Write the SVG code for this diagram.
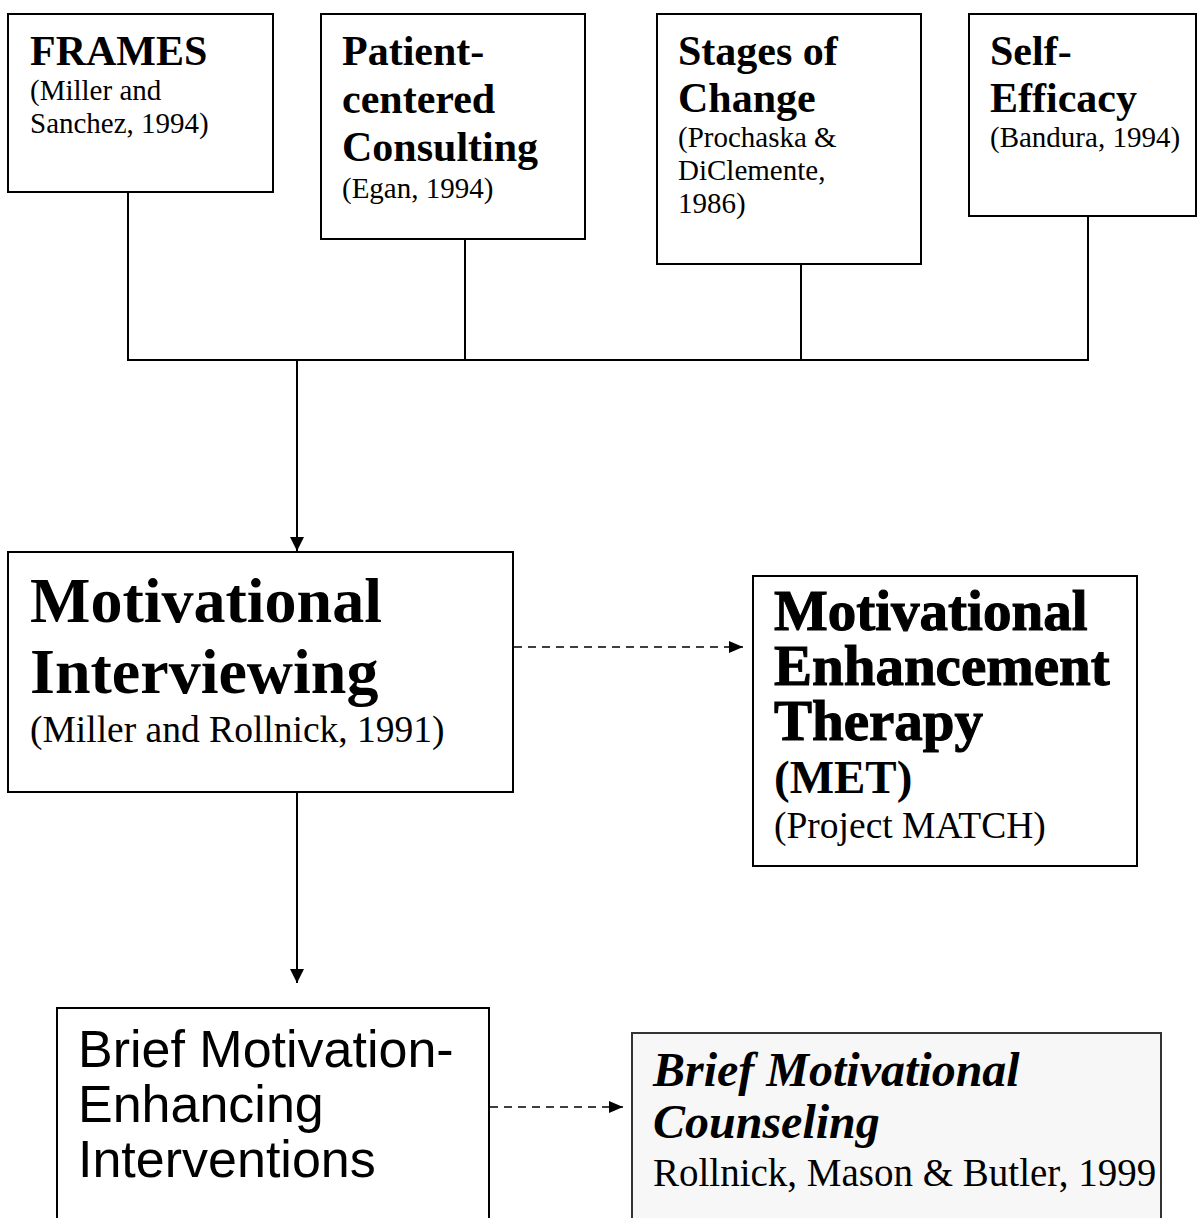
<svg xmlns="http://www.w3.org/2000/svg" width="1198" height="1218" viewBox="0 0 1198 1218">
  <style>
    .box { fill: #ffffff; stroke: #000000; stroke-width: 2; }
    .box2 { fill: #f7f7f7; stroke: #333333; stroke-width: 2; }
    .ln { fill: none; stroke: #000000; stroke-width: 2; }
    .dash { fill: none; stroke: #000000; stroke-width: 1.5; stroke-dasharray: 8 6; }
    .h42 { font-family: "Liberation Serif", "Times New Roman", serif; font-weight: bold; font-size: 42px; fill: #000; }
    .c28 { font-family: "Liberation Serif", "Times New Roman", serif; font-size: 29px; fill: #000; }
    .h64 { font-family: "Liberation Serif", "Times New Roman", serif; font-weight: bold; font-size: 64px; fill: #000; }
    .c37 { font-family: "Liberation Serif", "Times New Roman", serif; font-size: 37.5px; fill: #000; }
    .h57 { font-family: "Liberation Serif", "Times New Roman", serif; font-weight: bold; font-size: 57px; fill: #000; stroke: #000; stroke-width: 1.1; }
    .h47 { font-family: "Liberation Serif", "Times New Roman", serif; font-weight: bold; font-size: 47px; fill: #000; }
    .s51 { font-family: "Liberation Sans", Arial, sans-serif; font-size: 52px; fill: #000; }
    .bi48 { font-family: "Liberation Serif", "Times New Roman", serif; font-weight: bold; font-style: italic; font-size: 48px; fill: #000; }
    .c39 { font-family: "Liberation Serif", "Times New Roman", serif; font-size: 39px; fill: #000; }
  </style>
  <defs>
    <marker id="arr" markerUnits="userSpaceOnUse" viewBox="0 0 14 14" refX="14" refY="7" markerWidth="14" markerHeight="14" orient="auto">
      <path d="M0,0 L14,7 L0,14 Z" fill="#000"/>
    </marker>
    <marker id="arrs" markerUnits="userSpaceOnUse" viewBox="0 0 14 14" refX="14" refY="7" markerWidth="14" markerHeight="14" orient="auto">
      <path d="M0,1 L14,7 L0,13 Z" fill="#000"/>
    </marker>
  </defs>
  <rect x="0" y="0" width="1198" height="1218" fill="#ffffff"/>

  <g id="connectors">
    <line class="ln" x1="128" y1="192" x2="128" y2="360"/>
    <line class="ln" x1="465" y1="239" x2="465" y2="360"/>
    <line class="ln" x1="801" y1="264" x2="801" y2="360"/>
    <line class="ln" x1="1088" y1="216" x2="1088" y2="360"/>
    <line class="ln" x1="127" y1="360" x2="1089" y2="360"/>
    <line class="ln" x1="297" y1="360" x2="297" y2="551" marker-end="url(#arr)"/>
    <line class="ln" x1="297" y1="792" x2="297" y2="983" marker-end="url(#arr)"/>
    <line class="dash" x1="514" y1="647" x2="743" y2="647" marker-end="url(#arrs)"/>
    <line class="dash" x1="490" y1="1107" x2="623" y2="1107" marker-end="url(#arrs)"/>
  </g>

  <g id="frames">
    <rect class="box" x="8" y="14" width="265" height="178"/>
    <text class="h42" x="30" y="65">FRAMES</text>
    <text class="c28" x="30" y="100">(Miller and</text>
    <text class="c28" x="30" y="133">Sanchez, 1994)</text>
  </g>

  <g id="patient-centered">
    <rect class="box" x="321" y="14" width="264" height="225"/>
    <text class="h42" x="342" y="65">Patient-</text>
    <text class="h42" x="342" y="113">centered</text>
    <text class="h42" x="342" y="161">Consulting</text>
    <text class="c28" x="342" y="198">(Egan, 1994)</text>
  </g>

  <g id="stages-of-change">
    <rect class="box" x="657" y="14" width="264" height="250"/>
    <text class="h42" x="678" y="65">Stages of</text>
    <text class="h42" x="678" y="112">Change</text>
    <text class="c28" x="678" y="147">(Prochaska &amp;</text>
    <text class="c28" x="678" y="180">DiClemente,</text>
    <text class="c28" x="678" y="213">1986)</text>
  </g>

  <g id="self-efficacy">
    <rect class="box" x="969" y="14" width="227" height="202"/>
    <text class="h42" x="990" y="65">Self-</text>
    <text class="h42" x="990" y="112">Efficacy</text>
    <text class="c28" x="990" y="147">(Bandura, 1994)</text>
  </g>

  <g id="motivational-interviewing">
    <rect class="box" x="8" y="552" width="505" height="240"/>
    <text class="h64" x="30" y="622">Motivational</text>
    <text class="h64" x="30" y="693">Interviewing</text>
    <text class="c37" x="30" y="742">(Miller and Rollnick, 1991)</text>
  </g>

  <g id="met">
    <rect class="box" x="753" y="576" width="384" height="290"/>
    <text class="h57" x="774" y="630">Motivational</text>
    <text class="h57" x="774" y="685">Enhancement</text>
    <text class="h57" x="774" y="740">Therapy</text>
    <text class="h47" x="774" y="793">(MET)</text>
    <text class="c37" x="774" y="838">(Project MATCH)</text>
  </g>

  <g id="brief-interventions">
    <rect class="box" x="57" y="1008" width="432" height="220"/>
    <text class="s51" x="78" y="1067">Brief Motivation-</text>
    <text class="s51" x="78" y="1122">Enhancing</text>
    <text class="s51" x="78" y="1177">Interventions</text>
  </g>

  <g id="brief-counseling">
    <rect class="box2" x="632" y="1033" width="529" height="200"/>
    <text class="bi48" x="653" y="1086">Brief Motivational</text>
    <text class="bi48" x="653" y="1138">Counseling</text>
    <text class="c39" x="653" y="1186">Rollnick, Mason &amp; Butler, 1999</text>
  </g>
</svg>
